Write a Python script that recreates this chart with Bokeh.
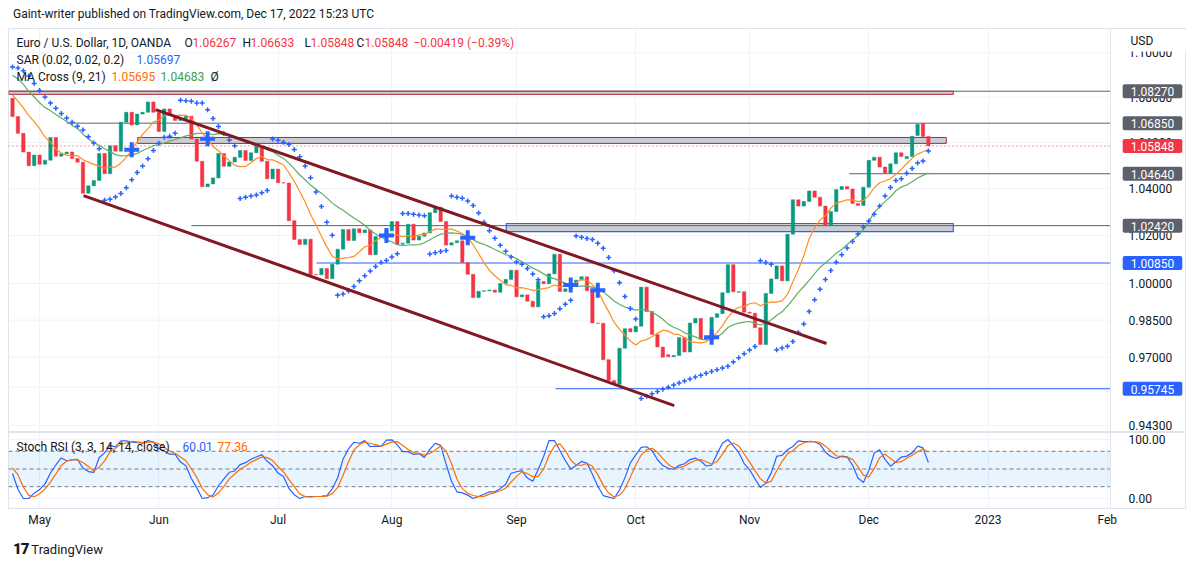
import math
import numpy as np
import pandas as pd
from bokeh.plotting import figure
from bokeh.models import Range1d, FixedTicker, Label, Div, Span
from bokeh.core.properties import value
from bokeh.layouts import column
from bokeh.embed import file_html
from bokeh.resources import INLINE

# ---------------- data (EUR/USD daily, 2022-04-25 .. 2022-12-16) ----------------
month_ticks = [5, 27, 49, 70, 93, 115, 136, 158, 180, 202]
month_labels = ["May", "Jun", "Jul", "Aug", "Sep", "Oct", "Nov", "Dec", "2023", "Feb"]

opens = [1.0795, 1.0714, 1.0640, 1.0558, 1.0499, 1.0545, 1.0505, 1.0523, 1.0622, 1.0540,
         1.0551, 1.0558, 1.0530, 1.0514, 1.0380, 1.0412, 1.0435, 1.0552, 1.0464, 1.0586,
         1.0562, 1.0689, 1.0733, 1.0677, 1.0725, 1.0733, 1.0779, 1.0733, 1.0648, 1.0748,
         1.0719, 1.0697, 1.0705, 1.0716, 1.0615, 1.0518, 1.0408, 1.0420, 1.0446, 1.0552,
         1.0496, 1.0515, 1.0535, 1.0565, 1.0521, 1.0555, 1.0583, 1.0518, 1.0442, 1.0484,
         1.0425, 1.0424, 1.0263, 1.0183, 1.0162, 1.0185, 1.0037, 1.0036, 1.0062, 1.0020,
         1.0080, 1.0143, 1.0226, 1.0179, 1.0229, 1.0212, 1.0224, 1.0120, 1.0196, 1.0197,
         1.0220, 1.0259, 1.0163, 1.0168, 1.0248, 1.0181, 1.0197, 1.0211, 1.0297, 1.0320,
         1.0259, 1.0160, 1.0170, 1.0178, 1.0087, 1.0038, 0.9942, 0.9968, 0.9970, 0.9973,
         0.9964, 1.0000, 1.0017, 1.0055, 0.9945, 0.9953, 0.9927, 0.9904, 1.0008, 0.9999,
         1.0040, 1.0122, 0.9967, 0.9978, 0.9998, 1.0014, 1.0028, 0.9970, 0.9838, 0.9837,
         0.9690, 0.9607, 0.9592, 0.9736, 0.9815, 0.9802, 0.9825, 0.9985, 0.9885, 0.9792,
         0.9741, 0.9710, 0.9702, 0.9707, 0.9779, 0.9721, 0.9838, 0.9857, 0.9773, 0.9781,
         0.9861, 0.9876, 0.9962, 1.0078, 0.9964, 0.9966, 0.9882, 0.9878, 0.9819, 0.9751,
         0.9959, 1.0019, 1.0073, 1.0011, 1.0206, 1.0352, 1.0325, 1.0345, 1.0390, 1.0363,
         1.0325, 1.0242, 1.0302, 1.0396, 1.0409, 1.0398, 1.0336, 1.0328, 1.0406, 1.0522,
         1.0536, 1.0493, 1.0467, 1.0507, 1.0555, 1.0530, 1.0539, 1.0631, 1.0683, 1.06267]

highs = [1.0808, 1.0722, 1.0652, 1.0566, 1.0593, 1.0570, 1.0580, 1.0642, 1.0641, 1.0598,
         1.0593, 1.0576, 1.0577, 1.0533, 1.0422, 1.0441, 1.0560, 1.0564, 1.0599, 1.0603,
         1.0697, 1.0748, 1.0738, 1.0732, 1.0765, 1.0787, 1.0786, 1.0737, 1.0750, 1.0764,
         1.0752, 1.0717, 1.0749, 1.0774, 1.0628, 1.0525, 1.0470, 1.0505, 1.0601, 1.0569,
         1.0545, 1.0582, 1.0606, 1.0586, 1.0571, 1.0615, 1.0606, 1.0531, 1.0488, 1.0487,
         1.0464, 1.0429, 1.0276, 1.0219, 1.0197, 1.0196, 1.0073, 1.0096, 1.0093, 1.0098,
         1.0200, 1.0269, 1.0273, 1.0278, 1.0257, 1.0255, 1.0237, 1.0214, 1.0234, 1.0254,
         1.0274, 1.0294, 1.0211, 1.0254, 1.0253, 1.0230, 1.0248, 1.0368, 1.0364, 1.0327,
         1.0267, 1.0203, 1.0202, 1.0192, 1.0090, 1.0050, 0.9995, 0.9999, 1.0030, 1.0090,
         1.0027, 1.0080, 1.0080, 1.0057, 1.0033, 0.9955, 0.9987, 1.0011, 1.0030, 1.0112,
         1.0198, 1.0187, 1.0019, 1.0017, 1.0037, 1.0050, 1.0051, 0.9976, 0.9907, 0.9852,
         0.9710, 0.9673, 0.9738, 0.9838, 0.9854, 0.9853, 0.9999, 0.9999, 0.9912, 0.9811,
         0.9756, 0.9735, 0.9735, 0.9807, 0.9806, 0.9851, 0.9875, 0.9874, 0.9853, 0.9870,
         0.9903, 0.9975, 1.0094, 1.0093, 0.9990, 0.9975, 0.9954, 0.9976, 0.9827, 0.9964,
         1.0034, 1.0094, 1.0094, 1.0223, 1.0365, 1.0364, 1.0480, 1.0404, 1.0392, 1.0407,
         1.0333, 1.0317, 1.0414, 1.0448, 1.0426, 1.0497, 1.0395, 1.0428, 1.0533, 1.0545,
         1.0594, 1.0505, 1.0530, 1.0564, 1.0588, 1.0569, 1.0673, 1.0696, 1.0736, 1.06633]

lows = [1.0697, 1.0636, 1.0515, 1.0471, 1.0488, 1.0491, 1.0493, 1.0505, 1.0493, 1.0484,
        1.0508, 1.0512, 1.0505, 1.0350, 1.0354, 1.0389, 1.0431, 1.0459, 1.0459, 1.0532,
        1.0558, 1.0642, 1.0640, 1.0663, 1.0699, 1.0714, 1.0682, 1.0627, 1.0641, 1.0707,
        1.0686, 1.0653, 1.0677, 1.0609, 1.0507, 1.0398, 1.0358, 1.0398, 1.0380, 1.0444,
        1.0484, 1.0508, 1.0469, 1.0485, 1.0513, 1.0549, 1.0508, 1.0430, 1.0382, 1.0366,
        1.0409, 1.0236, 1.0162, 1.0144, 1.0072, 1.0006, 0.9998, 0.9952, 0.9952, 1.0008,
        1.0080, 1.0124, 1.0178, 1.0154, 1.0159, 1.0181, 1.0109, 1.0096, 1.0114, 1.0146,
        1.0197, 1.0160, 1.0123, 1.0152, 1.0142, 1.0160, 1.0182, 1.0202, 1.0282, 1.0232,
        1.0146, 1.0122, 1.0140, 1.0075, 1.0033, 0.9926, 0.9900, 0.9910, 0.9945, 0.9948,
        0.9900, 0.9982, 0.9990, 0.9910, 0.9939, 0.9877, 0.9864, 0.9876, 0.9929, 0.9996,
        1.0040, 0.9955, 0.9955, 0.9955, 0.9945, 0.9966, 0.9954, 0.9811, 0.9807, 0.9669,
        0.9553, 0.9570, 0.9536, 0.9635, 0.9749, 0.9742, 0.9808, 0.9836, 0.9782, 0.9727,
        0.9671, 0.9667, 0.9668, 0.9632, 0.9710, 0.9716, 0.9805, 0.9750, 0.9757, 0.9705,
        0.9810, 0.9860, 0.9960, 0.9955, 0.9930, 0.9871, 0.9860, 0.9810, 0.9730, 0.9748,
        0.9932, 0.9995, 0.9995, 0.9935, 1.0191, 1.0271, 1.0272, 1.0310, 1.0289, 1.0316,
        1.0223, 1.0227, 1.0283, 1.0380, 1.0366, 1.0332, 1.0289, 1.0290, 1.0389, 1.0444,
        1.0480, 1.0443, 1.0442, 1.0502, 1.0515, 1.0510, 1.0519, 1.0603, 1.0590, 1.05848]

closes = [1.0714, 1.0640, 1.0558, 1.0499, 1.0545, 1.0505, 1.0523, 1.0622, 1.0540, 1.0551,
          1.0558, 1.0530, 1.0514, 1.0380, 1.0412, 1.0435, 1.0552, 1.0464, 1.0586, 1.0562,
          1.0689, 1.0733, 1.0677, 1.0725, 1.0733, 1.0779, 1.0733, 1.0648, 1.0748, 1.0719,
          1.0697, 1.0705, 1.0716, 1.0615, 1.0518, 1.0408, 1.0420, 1.0446, 1.0552, 1.0496,
          1.0515, 1.0535, 1.0565, 1.0521, 1.0555, 1.0583, 1.0518, 1.0442, 1.0484, 1.0425,
          1.0424, 1.0263, 1.0183, 1.0162, 1.0185, 1.0037, 1.0036, 1.0062, 1.0020, 1.0080,
          1.0143, 1.0226, 1.0179, 1.0229, 1.0212, 1.0224, 1.0120, 1.0196, 1.0197, 1.0220,
          1.0259, 1.0163, 1.0168, 1.0248, 1.0181, 1.0197, 1.0211, 1.0297, 1.0320, 1.0259,
          1.0160, 1.0170, 1.0178, 1.0087, 1.0038, 0.9942, 0.9968, 0.9970, 0.9973, 0.9964,
          1.0000, 1.0017, 1.0055, 0.9945, 0.9953, 0.9927, 0.9904, 1.0008, 0.9999, 1.0040,
          1.0122, 0.9967, 0.9978, 0.9998, 1.0014, 1.0028, 0.9970, 0.9838, 0.9837, 0.9690,
          0.9607, 0.9592, 0.9736, 0.9815, 0.9802, 0.9825, 0.9985, 0.9885, 0.9792, 0.9741,
          0.9700, 0.9702, 0.9707, 0.9779, 0.9721, 0.9838, 0.9857, 0.9773, 0.9781, 0.9861,
          0.9876, 0.9962, 1.0078, 0.9966, 0.9966, 0.9882, 0.9878, 0.9819, 0.9751, 0.9959,
          1.0019, 1.0073, 1.0011, 1.0206, 1.0352, 1.0325, 1.0345, 1.0390, 1.0363, 1.0325,
          1.0242, 1.0302, 1.0396, 1.0409, 1.0398, 1.0336, 1.0328, 1.0406, 1.0522, 1.0536,
          1.0493, 1.0467, 1.0507, 1.0555, 1.0539, 1.0539, 1.0627, 1.0680, 1.06267, 1.05848]

# closes before the first visible bar (indicator warm-up only, not drawn)
warmup_closes = [1.1126, 1.1119, 1.1066, 1.0929, 1.0855, 1.0900, 1.1073, 1.0985, 1.0912, 1.0940,
                 1.0955, 1.1035, 1.1094, 1.1051, 1.1015, 1.1018, 1.1007, 1.0998, 1.0982, 1.0985,
                 1.1087, 1.1158, 1.1067, 1.1046, 1.0972, 1.0905, 1.0903, 1.0879, 1.0876, 1.0885,
                 1.0826, 1.0889, 1.0826, 1.0808, 1.0781, 1.0786, 1.0853, 1.0837, 1.0796]

# horizontal levels drawn on the chart (price, first bar)
gray_levels = [1.0827, 1.0685, 1.0464, 1.0242]
gray_level_start = [-0.7, 10.0, 154.4, 33.0]
blue_levels = [1.0085, 0.95745]
blue_level_start = [56.1, 100.2]
# zones: (bottom, top, first bar, last bar)
zone_red = [(1.0813, 1.0827, -0.7, 173.6), (1.0596, 1.0622, 23.1, 172.3)]
zone_blue = [(1.0217, 1.0251, 91.1, 173.6)]
# channel trend lines (bar, price)
chan_upper_x = [26.4, 150.2]
chan_upper_y = [1.0745, 0.9755]
chan_lower_x = [13.1, 122.1]
chan_lower_y = [1.0370, 0.9508]

price_ticks = [0.943, 0.958, 0.970, 0.985, 1.000, 1.020, 1.040, 1.060, 1.080, 1.100]
stoch_ticks = [0, 100]
stoch_levels = [80, 50, 20]

# header texts
sar_text_value = "1.05697"
ma_short_text = "1.05695"
ma_long_text = "1.04683"
stoch_k_text = "60.01"
stoch_d_text = "77.36"

# ---------------- indicators ----------------
n = len(closes)
idx = np.arange(n)
W = len(warmup_closes)
allc = pd.Series(warmup_closes + closes)
ma9 = allc.rolling(9).mean().values[W:]
ma21 = allc.rolling(21).mean().values[W:]


def rsi_rma(s, length=14):
    a = s.values
    d = np.diff(a)
    up = np.maximum(d, 0)
    dn = np.maximum(-d, 0)
    out = np.full(len(a), np.nan)
    au = up[:length].mean()
    ad = dn[:length].mean()
    out[length] = 100.0 if ad == 0 else 100 - 100 / (1 + au / ad)
    for i in range(length + 1, len(a)):
        au = (au * (length - 1) + up[i - 1]) / length
        ad = (ad * (length - 1) + dn[i - 1]) / length
        out[i] = 100.0 if ad == 0 else 100 - 100 / (1 + au / ad)
    return pd.Series(out)


rsi = rsi_rma(allc, 14)
lo = rsi.rolling(14).min()
hi = rsi.rolling(14).max()
stoch = 100 * (rsi - lo) / (hi - lo)
k_line = stoch.rolling(3).mean()
d_line = k_line.rolling(3).mean()
k_vals = k_line.values[W:]
d_vals = d_line.values[W:]


def psar(h, l, sar0, ep0, af0, trend0, start=0.02, inc=0.02, mx=0.2):
    out = [sar0]
    sar, ep, af, trend = sar0, ep0, af0, trend0
    for i in range(1, len(h)):
        s = sar + af * (ep - sar)
        if trend < 0:
            s = max(s, h[i - 1], h[i - 2] if i >= 2 else h[i - 1])
            if h[i] > s:
                trend, s, ep, af = 1, ep, h[i], start
            elif l[i] < ep:
                ep, af = l[i], min(af + inc, mx)
        else:
            s = min(s, l[i - 1], l[i - 2] if i >= 2 else l[i - 1])
            if l[i] < s:
                trend, s, ep, af = -1, ep, l[i], start
            elif h[i] > ep:
                ep, af = h[i], min(af + inc, mx)
        sar = s
        out.append(s)
    return out


sar_vals = psar(highs, lows, 1.0936, lows[0], 0.02, -1)

cross_x, cross_y = [], []
diff = ma9 - ma21
for i in range(1, n):
    if diff[i] * diff[i - 1] < 0:
        cross_x.append(i)
        cross_y.append(ma9[i])

# ---------------- layout helpers (reference pixel -> data, for placement) ----------------
FX0, FX1 = 10, 1112          # plot area (left edge, price-scale edge)
XI0, XI1 = -0.74, 202.6      # bar index at those edges


def xd(px):
    return XI0 + (px - FX0) * (XI1 - XI0) / (FX1 - FX0)


def yd(py):
    return math.exp((283 - py) / 2420)


def sd(py):
    return (498 - py) / 0.59


XEND = xd(1188)               # right edge incl. price scale
FONT = "Roboto"
TXT = "#131722"
GREEN = "#089981"
RED = "#f23645"
BLUE = "#2962ff"
GRID = "#f0f3fa"
BORDER = "#e0e3eb"
FRAME_W = 1178

xr = Range1d(XI0, XEND)


def txt(fig, px, y, s, color=TXT, align="left", size="12px", bg=None, pad=None):
    kw = {}
    if bg is not None:
        kw = dict(background_fill_color=bg,
                  padding=pad or dict(left=8, right=8, top=3, bottom=2),
                  border_radius=2)
    fig.add_layout(Label(x=xd(px), y=y, text=s, text_color=color, text_font=FONT,
                         text_font_size=size, text_align=align, text_baseline="middle", **kw))


# ---------------- price pane ----------------
p = figure(width=8 + FRAME_W, height=404, x_range=xr, y_range=Range1d(yd(432), yd(28)),
           y_axis_type="log", y_axis_location=None, x_axis_location=None,
           output_backend="svg", toolbar_location=None,
           min_border_left=8, min_border_right=0, min_border_top=0, min_border_bottom=0)
p.outline_line_color = BORDER
p.xgrid.ticker = FixedTicker(ticks=month_ticks)
p.xgrid.grid_line_color = GRID
p.ygrid.visible = False
p.segment(x0=XI0, x1=XI1, y0=price_ticks, y1=price_ticks, line_color=GRID, line_width=1)
p.add_layout(Span(location=XI1, dimension="height", line_color=BORDER, line_width=1))

# zones
for (b, t, x0, x1) in zone_red:
    p.quad(left=x0, right=x1, bottom=b, top=t, fill_color="#c5c8cf", fill_alpha=0.9,
           line_color="#b22833", line_width=1)
for (b, t, x0, x1) in zone_blue:
    p.quad(left=x0, right=x1, bottom=b, top=t, fill_color="#c5c8cf", fill_alpha=0.9,
           line_color=BLUE, line_width=1.2)

# level lines
for lv, st in zip(gray_levels, gray_level_start):
    p.line([st, XI1], [lv, lv], line_color="#5d606b", line_width=1)
for lv, st in zip(blue_levels, blue_level_start):
    p.line([st, XI1], [lv, lv], line_color=BLUE, line_width=1)

# candles
o = np.array(opens)
c = np.array(closes)
colors = [GREEN if cc >= oo else RED for oo, cc in zip(o, c)]
p.vbar(x=idx, width=0.62, top=np.maximum(o, c), bottom=np.minimum(o, c),
       fill_color=colors, line_color=colors, line_width=0.5)

# moving averages
p.line(idx, ma21, line_color="#5fae63", line_width=1.2)
p.line(idx, ma9, line_color="#ff8f1f", line_width=1.2)

# parabolic SAR
p.scatter(idx, sar_vals, marker="cross", size=5, line_color=BLUE, line_width=1.5)

# MA cross markers
p.scatter(cross_x, cross_y, marker="cross", size=15, line_color=BLUE, line_width=4)

# channel
p.line(chan_upper_x, chan_upper_y, line_color="#801922", line_width=3)
p.line(chan_lower_x, chan_lower_y, line_color="#801922", line_width=3)

# last price line
p.line([XI0, XI1], [closes[-1], closes[-1]], line_color=RED, line_width=1, line_dash="1 3")

# price scale labels
p.text(x=[xd(1130)] * len(price_ticks), y=price_ticks, text=[f"{t:.5f}" for t in price_ticks],
       text_font=value(FONT), text_font_size="12px", text_color=TXT, text_baseline="middle")

# legend lines
chg = closes[-1] - closes[-2]
pct = chg / closes[-2] * 100
txt(p, 18, yd(42), "Euro / U.S. Dollar, 1D, OANDA")
txt(p, 186, yd(42), "O")
txt(p, 194, yd(42), f"{opens[-1]:.5f}", RED)
txt(p, 244, yd(42), "H")
txt(p, 252, yd(42), f"{highs[-1]:.5f}", RED)
txt(p, 306, yd(42), "L")
txt(p, 312, yd(42), f"{lows[-1]:.5f}", RED)
txt(p, 358, yd(42), "C")
txt(p, 366, yd(42), f"{closes[-1]:.5f}", RED)
txt(p, 415, yd(42), f"{chg:.5f} ({pct:.2f}%)".replace("-", "\u2212"), RED)
txt(p, 18, yd(59), "SAR (0.02, 0.02, 0.2)")
txt(p, 138, yd(59), sar_text_value, BLUE)
txt(p, 18, yd(76), "MA Cross (9, 21)")
txt(p, 113, yd(76), ma_short_text, "#ff6d00")
txt(p, 162, yd(76), ma_long_text, "#43a047")
txt(p, 212, yd(76), "\u00d8")

# price scale boxes
BOX_X = 1154
txt(p, 1130, yd(40), "USD", bg="white", pad=dict(left=2, right=40, top=4, bottom=4))
for lv in gray_levels:
    txt(p, BOX_X, lv, f"{lv:.5f}", "white", align="center", bg="#5d606b")
for lv in blue_levels:
    txt(p, BOX_X, lv, f"{lv:.5f}", "white", align="center", bg=BLUE)
txt(p, BOX_X, closes[-1], f"{closes[-1]:.5f}", "white", align="center", bg=RED)

# ---------------- stoch RSI pane ----------------
p2 = figure(width=8 + FRAME_W, height=98, x_range=xr, y_range=Range1d(sd(508), sd(432)),
            y_axis_location=None, output_backend="svg", toolbar_location=None,
            min_border_left=8, min_border_right=0, min_border_top=0, min_border_bottom=22)
p2.outline_line_color = BORDER
p2.xgrid.ticker = FixedTicker(ticks=month_ticks)
p2.xgrid.grid_line_color = GRID
p2.ygrid.visible = False
ax2 = p2.xaxis[0]
ax2.ticker = FixedTicker(ticks=month_ticks)
ax2.major_label_overrides = {t: l for t, l in zip(month_ticks, month_labels)}
ax2.axis_line_color = None
ax2.major_tick_line_color = None
ax2.minor_tick_line_color = None
ax2.major_tick_out = 0
ax2.major_label_standoff = 4
ax2.major_label_text_font = FONT
ax2.major_label_text_font_size = "12px"
ax2.major_label_text_color = TXT

p2.segment(x0=XI0, x1=XI1, y0=stoch_ticks, y1=stoch_ticks, line_color=GRID, line_width=1)
p2.quad(left=XI0, right=XI1, bottom=stoch_levels[2], top=stoch_levels[0],
        fill_color="#2196f3", fill_alpha=0.1, line_color=None)
p2.segment(x0=XI0, x1=XI1, y0=stoch_levels, y1=stoch_levels, line_color="#787b86",
           line_dash="4 3", line_width=1)
p2.add_layout(Span(location=XI1, dimension="height", line_color=BORDER, line_width=1))
p2.line(idx, k_vals, line_color=BLUE, line_width=1.2)
p2.line(idx, d_vals, line_color="#ff6d00", line_width=1.2)
p2.text(x=[xd(1130)] * len(stoch_ticks), y=stoch_ticks, text=[f"{t:.2f}" for t in stoch_ticks],
        text_font=value(FONT), text_font_size="12px", text_color=TXT, text_baseline="middle")

txt(p2, 18, sd(446), "Stoch RSI (3, 3, 14, 14, close)")
txt(p2, 184, sd(446), stoch_k_text, BLUE)
txt(p2, 219, sd(446), stoch_d_text, "#ff6d00")

# ---------------- header / footer ----------------
header = Div(text="Gaint-writer published on TradingView.com, Dec 17, 2022 15:23 UTC",
             width=8 + FRAME_W, height=18,
             styles={"font-family": FONT, "font-size": "12px", "color": TXT,
                     "line-height": "18px", "padding-left": "8px"})
footer = Div(text='<span style="font-weight:900;font-size:15px;letter-spacing:-1px">17</span> TradingView',
             width=8 + FRAME_W, height=24,
             styles={"font-family": FONT, "font-size": "13px", "color": TXT,
                     "line-height": "16px", "padding-top": "6px", "padding-left": "8px"})

layout = column(header, p, p2, footer, spacing=0)
open("out.html", "w").write(file_html(layout, INLINE))
